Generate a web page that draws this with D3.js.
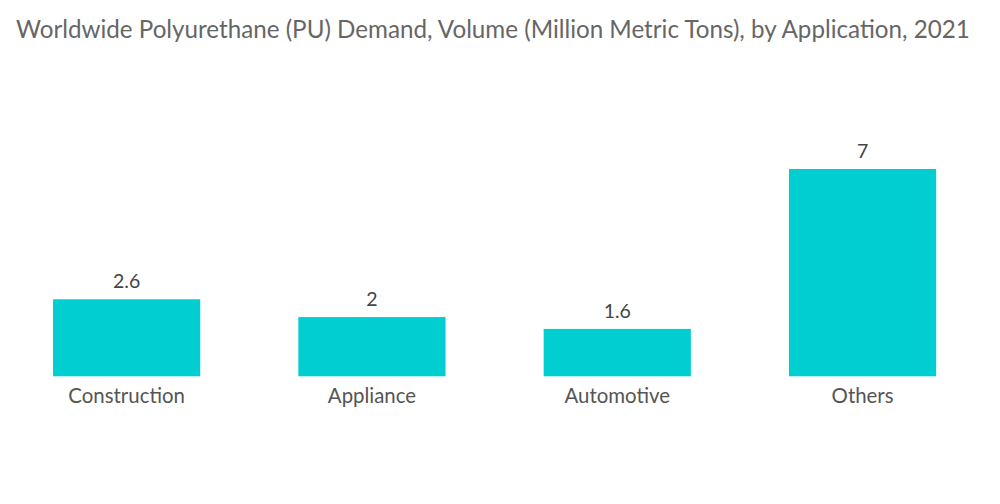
<!DOCTYPE html>
<html><head><meta charset="utf-8">
<script src="https://cdn.jsdelivr.net/npm/d3@7"></script>
<style>body{margin:0;background:#fff;} text{font-family:Lato,"Open Sans",sans-serif;}</style>
</head><body>
<svg id="chart" width="1000" height="504"></svg>
<script>
const categories = ["Construction", "Appliance", "Automotive", "Others"];
const values = [2.6, 2, 1.6, 7];
const valueLabels = ["2.6", "2", "1.6", "7"];
const title = "Worldwide Polyurethane (PU) Demand, Volume (Million Metric Tons), by Application, 2021";

const svg = d3.select("#chart");
svg.append("rect").attr("width",1000).attr("height",504).attr("fill","#fff");

svg.append("text").attr("x",16).attr("y",38)
  .attr("font-size",24.2).attr("fill","#666").text(title);

const x = d3.scaleBand().domain(categories).range([28.5, 960.7]).paddingInner(0.4).paddingOuter(0.1);
const y = d3.scaleLinear().domain([0, 7]).range([376.3, 169]);

svg.selectAll("rect.bar").data(values).enter().append("rect")
  .attr("class","bar")
  .attr("x",(d,i)=>x(categories[i]))
  .attr("width",x.bandwidth())
  .attr("y",d=>y(d))
  .attr("height",d=>y(0)-y(d))
  .attr("fill","#00ced1");

svg.selectAll("text.val").data(values).enter().append("text")
  .attr("class","val")
  .attr("x",(d,i)=>x(categories[i])+x.bandwidth()/2)
  .attr("y",d=>y(d)-11)
  .attr("text-anchor","middle").attr("font-size",19.5).attr("fill","#444")
  .text((d,i)=>valueLabels[i]);

const xAxis = d3.axisBottom(x).tickSize(0).tickPadding(12);
const g = svg.append("g").attr("transform",`translate(0,${y(0)})`).call(xAxis);
g.select(".domain").remove();
g.selectAll("text").attr("font-size",20.4).attr("fill","#555").attr("font-family","Lato,'Open Sans',sans-serif");
</script>
</body></html>
